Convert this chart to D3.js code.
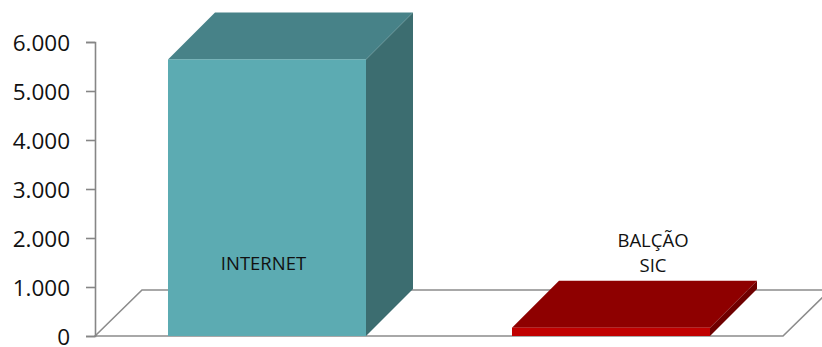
<!DOCTYPE html>
<html><head><meta charset="utf-8">
<script src="https://cdn.jsdelivr.net/npm/d3@7"></script>
<style>html,body{margin:0;padding:0;background:#fff;}svg{display:block;}</style>
</head><body>
<svg id="c" width="822" height="347"></svg>
<script>
const categories = ["INTERNET", "BALÇÃO SIC"];
const values = [5645, 170];
const tickValues = [0, 1000, 2000, 3000, 4000, 5000, 6000];
const tickLabels = ["0", "1.000", "2.000", "3.000", "4.000", "5.000", "6.000"];
const labelLines = [["INTERNET"], ["BALÇÃO", "SIC"]];
const faceColors = [
  {front: "#5CABB2", top: "#478288", side: "#3C6D70"},
  {front: "#C00000", top: "#8E0000", side: "#6F0000"}
];

const svg = d3.select("#c");
const x = d3.scaleBand().domain(categories).range([95, 783]).paddingInner(0.4244).paddingOuter(0.2122);
const y = d3.scaleLinear().domain([0, 6000]).range([336, 42]);
const dx = 47, dy = -47;
const floorDx = 47, floorDy = -46;

// floor
const y0 = y(0);
const x0 = x.range()[0], x1 = x.range()[1];
svg.append("path")
  .attr("d", `M${x0},${y0} L${x0+floorDx},${y0+floorDy} L${x1+floorDx},${y0+floorDy} L${x1},${y0} Z`)
  .attr("fill", "#fff").attr("stroke", "#8c8c8c").attr("stroke-width", 1.6);

// bars
categories.forEach((c, i) => {
  const bx = x(c), bw = x.bandwidth(), top = y(values[i]);
  const col = faceColors[i];
  const g = svg.append("g");
  // side
  g.append("path").attr("d", `M${bx+bw},${y0} L${bx+bw+dx},${y0+dy} L${bx+bw+dx},${top+dy} L${bx+bw},${top} Z`).attr("fill", col.side);
  // top
  g.append("path").attr("d", `M${bx},${top} L${bx+dx},${top+dy} L${bx+bw+dx},${top+dy} L${bx+bw},${top} Z`).attr("fill", col.top);
  // front
  g.append("rect").attr("x", bx).attr("y", top).attr("width", bw).attr("height", y0 - top).attr("fill", col.front);
});

// axis
const axis = d3.axisLeft(y).tickValues(tickValues).tickSize(9).tickPadding(16)
  .tickFormat((d, i) => tickLabels[i]);
const ag = svg.append("g").attr("transform", "translate(95,0)").call(axis);
ag.select(".domain").attr("stroke", "#868686").attr("stroke-width", 1.6);
ag.selectAll(".tick line").attr("stroke", "#868686").attr("stroke-width", 1.6);
ag.selectAll(".tick text").attr("font-family", "'Open Sans', sans-serif").attr("font-size", 22.5).attr("fill", "#111").attr("dy", "0.36em");

// labels
const labelPos = [{dxc: -3.5, by: 269.5}, {dxc: 42, by: 246.5}];
categories.forEach((c, i) => {
  const cx = x(c) + x.bandwidth() / 2 + labelPos[i].dxc;
  const t = svg.append("text").attr("text-anchor", "middle")
    .attr("font-family", "'Open Sans', sans-serif").attr("font-size", 18.5).attr("fill", "#111");
  labelLines[i].forEach((ln, k) => {
    t.append("tspan").attr("x", cx).attr("y", labelPos[i].by + k * 25).text(ln);
  });
});
</script>
</body></html>
